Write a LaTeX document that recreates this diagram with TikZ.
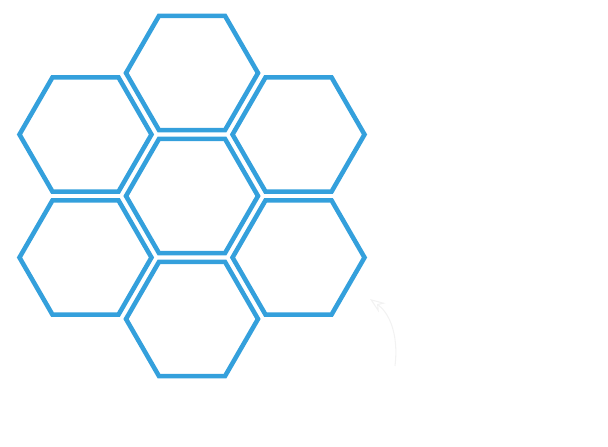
\documentclass[tikz,border=0pt]{standalone}
\usepackage{tikz}
\usetikzlibrary{arrows.meta,calc}
\definecolor{hexblue}{RGB}{52,160,220}
\tikzset{
  hexcell/.style={draw=hexblue,line width=2.6pt,line join=miter},
  faintarr/.style={-{Stealth[length=3mm,open]},line width=0.6pt,black!5},
}

\begin{document}
\begin{tikzpicture}[x=0.02cm,y=-0.02cm]
  \useasboundingbox (0,0) rectangle (608,446);
  % centre cell and its six neighbours
  \coordinate (c0) at (192,196);
  \foreach \a [count=\i] in {90,30,330,270,210,150}{
    \coordinate (c\i) at ($(c0)+({123*cos(\a)},{-123*sin(\a)})$);
  }
  \foreach \i in {0,...,6}{
    \draw[hexcell] ($(c\i)+(66,0)$) \foreach \t in {60,120,...,300}{ -- ($(c\i)+({66*cos(\t)},{66*sin(\t)})$)} -- cycle;
  }
  \coordinate (tail) at (395,366);
  \coordinate (head) at (370,299);
  \draw[faintarr] (tail) .. controls (399,332) and (388,312) .. (head);
\end{tikzpicture}
\end{document}
